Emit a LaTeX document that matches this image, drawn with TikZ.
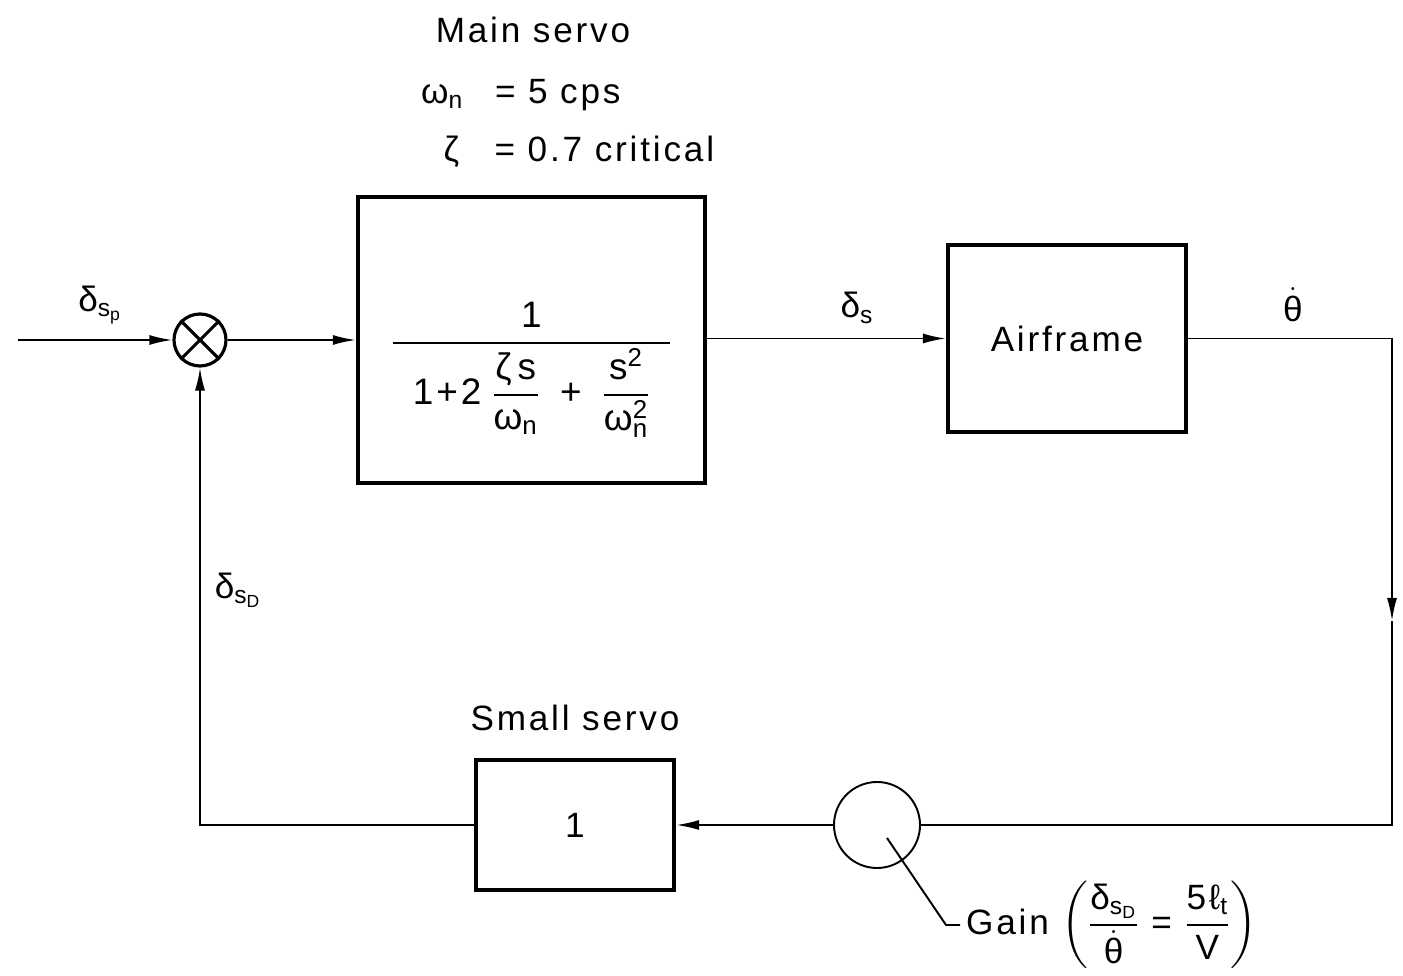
\documentclass[tikz,border=0pt]{standalone}
\usepackage{amsmath}
\usepackage{fontspec}
\setmainfont{Liberation Sans}[LetterSpace=8]
\usetikzlibrary{arrows.meta}
\newcommand{\dl}{\text{δ}}
\newcommand{\om}{\text{ω}}
\newcommand{\zt}{\text{ζ}}
\newcommand{\thd}{\dot{\text{θ}}}
\begin{document}
\begin{tikzpicture}[every node/.style={font=\fontsize{20}{24}\selectfont},
  blk/.style={draw, line width=2.4pt, inner sep=0pt},
  sig/.style={line width=1.1pt},
  arr/.style={sig, -{Latex[length=0.46cm, width=0.2cm]}}]
\useasboundingbox (0,0) rectangle (28.06,19.52);
% Forward path
\coordinate (in) at (0.36,12.72);
\node[draw, line width=1.8pt, circle, minimum size=1.04cm, inner sep=0pt] (sum) at (4.0,12.72) {};
\draw[line width=1.8pt] (sum.north west) -- (sum.south east) (sum.north east) -- (sum.south west);
\node[blk, minimum width=6.94cm, minimum height=5.72cm] (servo) at (10.63,12.72) {};
\node[font=\fontsize{21}{25}\selectfont] (tf) at ([yshift=-0.6cm]servo.center) {$\displaystyle\frac{\text{1}}{\hspace{0.4cm}\text{1+2}\;\dfrac{\zt\,\text{s}}{\om_{\text{n}}}\;\;\text{+}\;\;\dfrac{\text{s}^{\text{2}}}{\om_{\text{n}}^{\text{2}}}\hspace{0.4cm}}$};
\node[blk, minimum width=4.76cm, minimum height=3.74cm] (air) at (21.34,12.75) {Airframe};
\draw[arr] (in) -- (sum.west);
\draw[arr] (sum.east) -- (servo.west);
\draw[arr] (servo.east |- air.west) -- (air.west);
% Labels on forward path
\node at (2.0,13.42) {$\dl_{\text{s}_{\text{p}}}$};
\node at (17.14,13.36) {$\dl_{\text{s}}$};
\node at (25.86,13.42) {$\thd$};
\node at (10.66,18.92) {Main servo};
\node[anchor=west] at (8.3,17.62) {\makebox[2.1em][l]{$\om_{\text{n}}$}= 5 cps};
\node[anchor=west] at (8.75,16.48) {\makebox[1.45em][l]{$\zt$}= 0.7 critical};
% Feedback path
\coordinate (c1) at (27.84,12.75);
\coordinate (c2) at (27.84,7.1);
\coordinate (c3) at (27.84,3.02);
\node[draw, sig, circle, minimum size=1.72cm, inner sep=0pt] (gain) at (17.54,3.02) {};
\node[blk, minimum width=3.96cm, minimum height=2.6cm] (small) at (11.5,3.02) {1};
\node at (11.5,5.16) {Small servo};
\draw[sig] (air.east) -- (c1);
\draw[arr] (c1) -- (c2);
\draw[sig] (c2) -- (c3) -- (gain.east);
\draw[arr] (gain.west) -- (small.east);
\draw[arr] (small.west) -| (sum.south);
\node at (4.76,7.72) {$\dl_{\text{s}_{\text{D}}}$};
% Gain annotation
\coordinate (lead) at (17.74,2.76);
\node[anchor=west] (gtxt) at (19.2,1.02) {Gain $\left(\dfrac{\dl_{\text{s}_{\text{D}}}}{\thd}\text{ = }\dfrac{\text{5ℓ}_{\text{t}}}{\text{V}}\right)$};
\draw[sig] (lead) -- (18.92,1.02) -- (gtxt.west);
\end{tikzpicture}
\end{document}
